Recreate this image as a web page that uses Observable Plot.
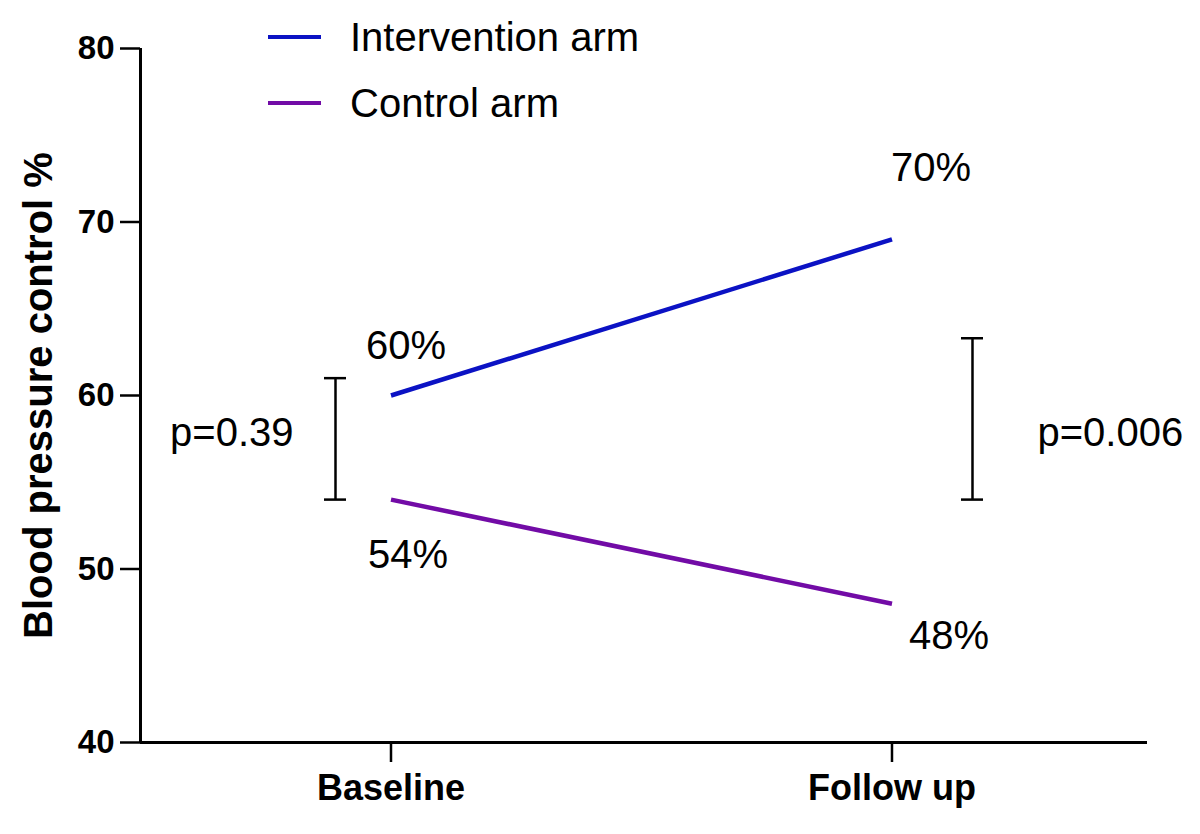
<!DOCTYPE html>
<html>
<head>
<meta charset="utf-8">
<script src="https://cdn.jsdelivr.net/npm/d3@7"></script>
<script src="https://cdn.jsdelivr.net/npm/@observablehq/plot@0.6"></script>
<style>
  html, body { margin: 0; padding: 0; background: #fff; }
  #wrap { position: relative; width: 1200px; height: 834px; font-family: "Liberation Sans", Arial, sans-serif; }
  #legend { position: absolute; left: 268px; top: 0; }
  .item { position: absolute; left: 0; white-space: nowrap; display: flex; align-items: center; height: 40px; }
  .swatch { width: 53px; height: 4px; margin-right: 29px; }
  .lab { font-size: 40px; color: #000; line-height: 40px; }
</style>
</head>
<body>
<div id="wrap">
  <div id="chart"></div>
  <div id="legend"></div>
</div>
<script>
// ---- data ----
const times = ["Baseline", "Follow up"];
const intervention = [60, 69];
const control = [54, 48];
const interventionLabels = ["60%", "70%"];
const controlLabels = ["54%", "48%"];
const errLow = [54, 54];
const errHigh = [61, 63.3];
const pLabels = ["p=0.39", "p=0.006"];
const pY = [57.8, 57.8];
const yTicks = [40, 50, 60, 70, 80];
const yDomain = [40, 80];
const xDomain = [-0.5, 1.51];
const seriesNames = ["Intervention arm", "Control arm"];
const seriesColors = ["#0b12c4", "#720ba6"];

// ---- tables ----
const rows = times.map((t, i) => ({
  i, t,
  intervention: intervention[i], control: control[i],
  iLab: interventionLabels[i], cLab: controlLabels[i],
  lo: errLow[i], hi: errHigh[i], p: pLabels[i], pY: pY[i]
}));
const r0 = [rows[0]], r1 = [rows[1]];

const font = "'Liberation Sans', Arial, sans-serif";
const labelOpts = {fontSize: 40, fill: "#000", fontFamily: font};

const chart = Plot.plot({
  width: 1200,
  height: 834,
  marginLeft: 140,
  marginRight: 53,
  marginTop: 48,
  marginBottom: 92,
  style: {fontFamily: font, background: "white", color: "black", overflow: "visible"},
  x: {type: "linear", domain: xDomain},
  y: {domain: yDomain},
  marks: [
    // axis lines
    Plot.ruleX([xDomain[0]], {strokeWidth: 3, stroke: "#000"}),
    Plot.ruleY([yDomain[0]], {strokeWidth: 3, stroke: "#000"}),
    Plot.axisY({ticks: yTicks, tickSize: 20, tickPadding: 6, fontSize: 33, fontWeight: "bold", strokeWidth: 2.5, label: null, tickFormat: d3.format("d")}),
    Plot.axisX({ticks: rows.map(d => d.i), tickSize: 20, tickPadding: 12, fontSize: 36, fontWeight: "bold", strokeWidth: 2.5, label: null, tickFormat: i => times[i]}),
    Plot.text(["Blood pressure control %"], {frameAnchor: "left", textAnchor: "middle", rotate: -90, dx: -101, fontSize: 40, fontWeight: "bold", fill: "#000"}),
    // series lines
    Plot.line(rows, {x: "i", y: "intervention", stroke: seriesColors[0], strokeWidth: 4.5, strokeLinecap: "butt"}),
    Plot.line(rows, {x: "i", y: "control", stroke: seriesColors[1], strokeWidth: 4.5, strokeLinecap: "butt"}),
    // error bars (p-value brackets)
    Plot.ruleX(r0, {x: "i", y1: "lo", y2: "hi", dx: -55.5, strokeWidth: 2.5, stroke: "#000"}),
    Plot.ruleY(r0, {x1: "i", x2: "i", y: "lo", dx: -55.5, insetLeft: -11, insetRight: -11, strokeWidth: 2.5, stroke: "#000"}),
    Plot.ruleY(r0, {x1: "i", x2: "i", y: "hi", dx: -55.5, insetLeft: -11, insetRight: -11, strokeWidth: 2.5, stroke: "#000"}),
    Plot.ruleX(r1, {x: "i", y1: "lo", y2: "hi", dx: 80.5, strokeWidth: 2.5, stroke: "#000"}),
    Plot.ruleY(r1, {x1: "i", x2: "i", y: "lo", dx: 80.5, insetLeft: -11, insetRight: -11, strokeWidth: 2.5, stroke: "#000"}),
    Plot.ruleY(r1, {x1: "i", x2: "i", y: "hi", dx: 80.5, insetLeft: -11, insetRight: -11, strokeWidth: 2.5, stroke: "#000"}),
    // p labels
    Plot.text(r0, {x: "i", y: "pY", text: "p", textAnchor: "end", dx: -97.5, ...labelOpts}),
    Plot.text(r1, {x: "i", y: "pY", text: "p", textAnchor: "start", dx: 145.5, ...labelOpts}),
    // value labels
    Plot.text(r0, {x: "i", y: "intervention", text: "iLab", dx: 15, dy: -49, ...labelOpts}),
    Plot.text(r0, {x: "i", y: "control", text: "cLab", dx: 17, dy: 56, ...labelOpts}),
    Plot.text(r1, {x: "i", y: "intervention", text: "iLab", dx: 39, dy: -71, ...labelOpts}),
    Plot.text(r1, {x: "i", y: "control", text: "cLab", dx: 57, dy: 32, ...labelOpts})
  ]
});
document.getElementById("chart").appendChild(chart);

// legend
const legend = document.getElementById("legend");
const legendTops = [17, 83];
seriesNames.forEach((name, k) => {
  const item = document.createElement("div");
  item.className = "item";
  item.style.top = legendTops[k] + "px";
  const sw = document.createElement("div");
  sw.className = "swatch";
  sw.style.background = seriesColors[k];
  const lab = document.createElement("span");
  lab.className = "lab";
  lab.textContent = name;
  item.appendChild(sw);
  item.appendChild(lab);
  legend.appendChild(item);
});
</script>
</body>
</html>
